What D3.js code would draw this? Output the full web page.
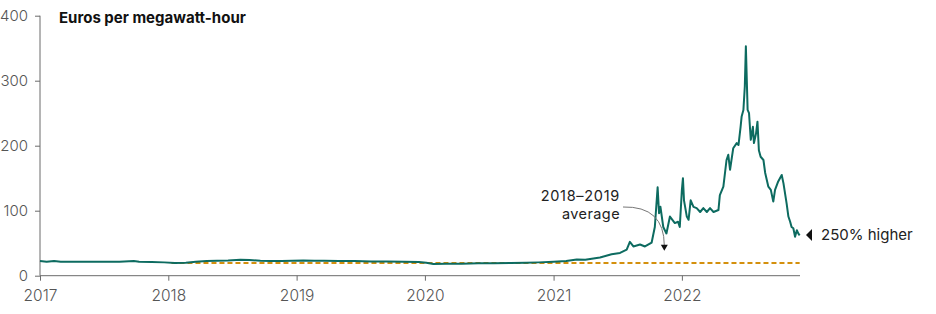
<!DOCTYPE html>
<html><head><meta charset="utf-8">
<script src="https://cdn.jsdelivr.net/npm/d3@7"></script>
<style>
html,body{margin:0;padding:0;background:#fff;}
svg{display:block;font-family:Inter, Lato, sans-serif;}
</style></head><body>
<svg id="chart" width="936" height="314"></svg>
<script>
const title = "Euros per megawatt-hour";
const yTicks = [0, 100, 200, 300, 400];
const xTickYears = [2017, 2018, 2019, 2020, 2021, 2022];
const dates = [
"2017-01-01","2017-01-20","2017-02-10","2017-03-01","2017-04-01","2017-05-15","2017-07-01","2017-08-15","2017-09-25","2017-10-10","2017-11-15","2017-12-20",
"2018-01-20","2018-02-20","2018-03-20","2018-04-20","2018-05-20","2018-06-20","2018-07-25","2018-08-20","2018-09-20","2018-10-20","2018-11-20","2018-12-20",
"2019-01-20","2019-02-20","2019-03-20","2019-05-01","2019-06-15","2019-08-01","2019-09-15","2019-11-01","2019-12-15",
"2020-01-05","2020-01-25","2020-03-01","2020-04-15","2020-06-01","2020-07-15","2020-09-01","2020-10-15","2020-11-20",
"2021-01-01","2021-02-06","2021-03-08","2021-04-01","2021-04-29","2021-05-13","2021-06-15","2021-07-09","2021-07-28","2021-08-06","2021-08-16","2021-09-04","2021-09-18","2021-10-07","2021-10-16","2021-10-24","2021-10-28","2021-11-01","2021-11-09","2021-11-18","2021-11-28","2021-12-05","2021-12-12","2021-12-21","2021-12-26",
"2022-01-01","2022-01-04","2022-01-07","2022-01-15","2022-01-20","2022-01-26","2022-02-03","2022-02-12","2022-02-22","2022-03-03","2022-03-13","2022-03-22","2022-04-01","2022-04-15","2022-04-19","2022-04-29","2022-05-08","2022-05-13","2022-05-18","2022-05-27","2022-06-06","2022-06-11","2022-06-17","2022-06-20","2022-06-25","2022-06-29","2022-07-02","2022-07-07","2022-07-11","2022-07-16","2022-07-22","2022-07-25","2022-07-31","2022-08-04","2022-08-08","2022-08-13","2022-08-21","2022-08-26","2022-09-04","2022-09-11","2022-09-18","2022-09-23","2022-10-02","2022-10-12","2022-10-17","2022-10-26","2022-10-31","2022-11-05","2022-11-09","2022-11-14","2022-11-19","2022-11-24","2022-11-28","2022-12-02"
];
const prices = [
22.5,21.5,22.5,21.5,21.5,21.5,21.5,21.5,22.5,21.5,21,20.5,
19.5,20,21.5,22.5,23,23.5,24.5,24,23,22.5,22.5,23,
23.5,23,23,22.5,22.5,22,22,21.5,21,
20,18,18.5,18.5,19,19,19.5,20,20.5,
21.5,22.5,25,24.5,27,28,33,35,40,52,45,48,45,51,75,136,96,106,75,65,91,86,81,83,75,
132,150,116,91,86,116,106,104,98,104,98,104,98,101,124,137,178,186,163,196,204,201,229,245,255,291,353,255,250,209,229,204,219,237,193,183,178,158,137,132,114,132,145,155,142,111,91,83,75,73,60,70,65,62
];
const avgStart = "2018-01-10";
const avgEnd = "2022-12-02";
const avgValue = 19.5;
const avgLabel = ["2018\u20132019", "average"];
const endLabel = "250% higher";

const parse = d3.timeParse("%Y-%m-%d");
const data = dates.map((d, i) => ({date: parse(d), value: prices[i]}));

const svg = d3.select("#chart");
const x = d3.scaleTime().domain([parse("2017-01-01"), parse("2022-12-03")]).range([40, 800]);
const y = d3.scaleLinear().domain([0, 400]).range([275.7, 15.7]);

const axisColor = "#6b6b6b";
const labelColor = "#555";

// y axis
const yAxis = svg.append("g").attr("transform", "translate(40,0)")
  .call(d3.axisLeft(y).tickValues(yTicks).tickSize(5).tickPadding(7));
yAxis.select(".domain").attr("stroke", axisColor).attr("d", `M0,${y(400)}V${y(0)}`);
yAxis.selectAll(".tick line").attr("stroke", axisColor);
yAxis.selectAll(".tick text").attr("fill", labelColor).style("font-size", "15px").style("font-family", "Inter, sans-serif").style("font-weight", 300);

// x axis
const xAxis = svg.append("g").attr("transform", `translate(0,${y(0)})`)
  .call(d3.axisBottom(x).tickValues(xTickYears.map(yr => new Date(yr, 0, 1))).tickFormat(d3.timeFormat("%Y")).tickSize(5).tickPadding(9));
xAxis.select(".domain").attr("stroke", axisColor).attr("d", `M40,0H800`);
xAxis.selectAll(".tick line").attr("stroke", axisColor);
xAxis.selectAll(".tick text").attr("fill", labelColor).style("font-size", "15.5px").style("font-family", "Inter, sans-serif").style("font-weight", 300);

// title
svg.append("text").attr("x", 59).attr("y", 23).text(title)
  .attr("fill", "#111").style("font-size", "15px").style("font-weight", 700).style("font-family", "Inter, sans-serif");

// average dashed line
svg.append("line")
  .attr("x1", x(parse(avgStart))).attr("x2", x(parse(avgEnd)))
  .attr("y1", y(avgValue)).attr("y2", y(avgValue))
  .attr("stroke", "#d4900d").attr("stroke-width", 2).attr("stroke-dasharray", "5,3");

// price line
svg.append("path").datum(data)
  .attr("fill", "none").attr("stroke", "#0d6b60").attr("stroke-width", 2).attr("stroke-linejoin", "round")
  .attr("d", d3.line().x(d => x(d.date)).y(d => y(d.value)));

// annotation: 2018-2019 average
const ann = svg.append("g").style("font-family", "Inter, sans-serif").style("font-size", "14.5px").attr("fill", "#222").style("font-weight", 400);
ann.append("text").attr("x", 620).attr("y", 201).attr("text-anchor", "end").style("letter-spacing", "0.7px").text(avgLabel[0]);
ann.append("text").attr("x", 620).attr("y", 219).attr("text-anchor", "end").style("letter-spacing", "0.4px").text(avgLabel[1]);
const ax = x(parse("2021-11-12"));
const ay = y(40);
svg.append("path").attr("d", `M623,207 Q${ax},206 ${ax},${ay - 4}`)
  .attr("fill", "none").attr("stroke", "#777").attr("stroke-width", 1);
svg.append("path").attr("d", `M${ax-3.5},${ay-5}L${ax+3.5},${ay-5}L${ax},${ay+1}Z`).attr("fill", "#111");

// end label
const last = data[data.length - 1];
const ly = y(last.value) - 0.5;
svg.append("path").attr("d", `M806,${ly}L812,${ly-6}L812,${ly+6}Z`).attr("fill", "#111");
svg.append("text").attr("x", 821).attr("y", ly + 5.5).text(endLabel)
  .attr("fill", "#222").style("font-size", "15px").style("font-family", "Inter, sans-serif");
</script>
</body></html>
